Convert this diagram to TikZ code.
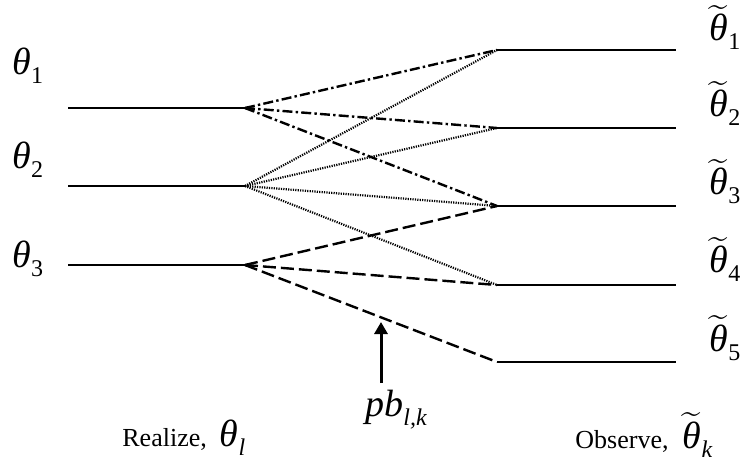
\documentclass[tikz,border=0pt]{standalone}
\usepackage{amsmath}
\usepackage{fontspec}
\setmainfont{Liberation Serif}
\usetikzlibrary{arrows.meta}
\newcommand{\bigth}{{\fontsize{19}{19}\selectfont\itshape θ}}
\newcommand{\subtxt}[1]{\raisebox{-4.5pt}{\fontsize{12}{12}\selectfont #1}}
\newcommand{\thsub}[1]{\bigth\subtxt{#1}}
\newcommand{\tth}{{\fontsize{19}{19}\selectfont\ooalign{\hfil$\widetilde{\hbox to 10pt{\vrule width 0pt height 12.8pt\hfil}}$\hfil\cr\hfil\bigth\hfil\cr}}}
\newcommand{\tthsub}[1]{\tth\subtxt{#1}}
\begin{document}
\begin{tikzpicture}[x=0.5pt,y=-0.5pt,
  level/.style={line width=0.75pt},
  dashdotline/.style={line width=1.2pt,dash pattern=on 5pt off 1.6pt on 1.2pt off 1.6pt},
  dotline/.style={line width=1.1pt,dash pattern=on 0.6pt off 0.6pt},
  dashline/.style={line width=1.2pt,dash pattern=on 6.5pt off 2.5pt},
  lbl/.style={inner sep=0pt,anchor=base west}]
\useasboundingbox (0,0) rectangle (748,464);
% left levels
\coordinate (L1s) at (68,108); \coordinate (L1) at (245,108);
\coordinate (L2s) at (68,186); \coordinate (L2) at (245,186);
\coordinate (L3s) at (68,265); \coordinate (L3) at (245,265);
% right levels
\coordinate (R1) at (497,50);  \coordinate (R1e) at (676,50);
\coordinate (R2) at (497,128); \coordinate (R2e) at (676,128);
\coordinate (R3) at (497,206); \coordinate (R3e) at (676,206);
\coordinate (R4) at (497,285); \coordinate (R4e) at (676,285);
\coordinate (R5) at (497,362); \coordinate (R5e) at (676,362);
\foreach \a/\b in {L1s/L1,L2s/L2,L3s/L3,R1/R1e,R2/R2e,R3/R3e,R4/R4e,R5/R5e}
  \draw[level] (\a) -- (\b);
% connectors
\foreach \r in {R1,R2,R3} \draw[dashdotline] (L1) -- (\r);
\foreach \r in {R1,R2,R3,R4} \draw[dotline] (L2) -- (\r);
\foreach \r in {R3,R4,R5} \draw[dashline] (L3) -- (\r);
% left labels
\node[lbl] (t1) at (12,75) {\thsub{1}};
\node[lbl] (t2) at (12,169) {\thsub{2}};
\node[lbl] (t3) at (12,268) {\thsub{3}};
% right labels
\node[lbl] (r1) at (708,41) {\tthsub{1}};
\node[lbl] (r2) at (708,117) {\tthsub{2}};
\node[lbl] (r3) at (708,195) {\tthsub{3}};
\node[lbl] (r4) at (708,273) {\tthsub{4}};
\node[lbl] (r5) at (708,351) {\tthsub{5}};
% arrow and pb label
\coordinate (ab) at (381,383);
\coordinate (at) at (381,322);
\draw[line width=1.5pt,-{Triangle[width=6.5pt,length=6pt]}] (ab) -- (at);
\node[lbl] (pb) at (365,416) {\fontsize{19}{19}\selectfont\itshape pb\subtxt{\itshape l,k}};
% bottom labels
\node[lbl] (realize) at (122,446) {\fontsize{13}{13}\selectfont Realize,\ \ \bigth\subtxt{\itshape l}};
\node[lbl] (observe) at (575,448) {\fontsize{13}{13}\selectfont Observe,\ \ \tth\subtxt{\itshape k}};
\end{tikzpicture}
\end{document}
